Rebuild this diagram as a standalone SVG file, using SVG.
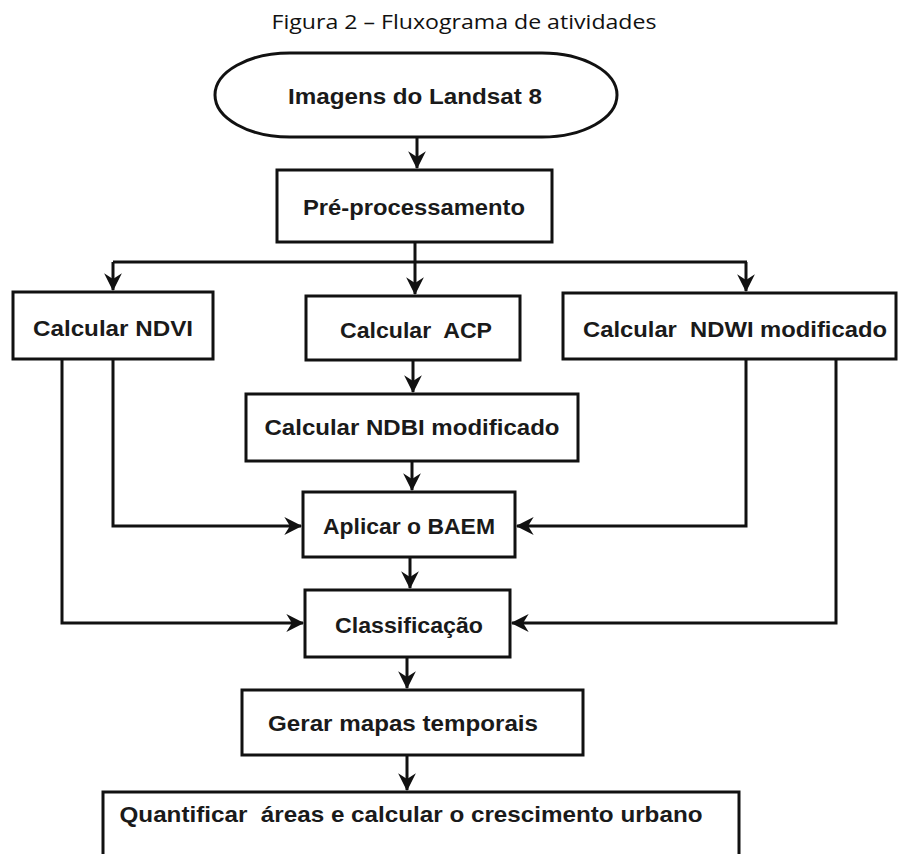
<svg xmlns="http://www.w3.org/2000/svg" width="900" height="854" viewBox="0 0 900 854">
<style>
.box{fill:#fff;stroke:#111;stroke-width:3}
.lbl{font-family:"Liberation Sans",Arial,sans-serif;font-weight:bold;font-size:22px;fill:#1a1a1a;text-anchor:middle}
.title{font-family:"Open Sans","Liberation Sans",sans-serif;font-size:20px;fill:#111;text-anchor:middle}
.con{fill:none;stroke:#111;stroke-width:3}
</style>
<defs>
<marker id="ah" markerUnits="userSpaceOnUse" markerWidth="20" markerHeight="20" viewBox="-16 -9 18 18" refX="0" refY="0" orient="auto">
<path d="M1,0 L-15,-8 L-10,0 L-15,8 Z" fill="#111"/>
</marker>
</defs>
<rect width="900" height="854" fill="#fff"/>
<text class="title" x="464" y="29" textLength="385" lengthAdjust="spacingAndGlyphs">Figura 2 – Fluxograma de atividades</text>

<g id="n-landsat">
<rect class="box" x="215" y="53" width="402" height="84" rx="75" ry="42"/>
<text class="lbl" x="415" y="104" textLength="254" lengthAdjust="spacingAndGlyphs">Imagens do Landsat 8</text>
</g>
<g id="n-pre">
<rect class="box" x="277" y="170" width="275" height="72"/>
<text class="lbl" x="414" y="215" textLength="222" lengthAdjust="spacingAndGlyphs">Pré-processamento</text>
</g>
<g id="n-ndvi">
<rect class="box" x="13" y="292" width="200" height="67"/>
<text class="lbl" x="113" y="336" textLength="160" lengthAdjust="spacingAndGlyphs">Calcular NDVI</text>
</g>
<g id="n-acp">
<rect class="box" x="306" y="296" width="214" height="64"/>
<text class="lbl" x="416" y="338" textLength="152" lengthAdjust="spacingAndGlyphs" xml:space="preserve">Calcular  ACP</text>
</g>
<g id="n-ndwi">
<rect class="box" x="563" y="293" width="333" height="66"/>
<text class="lbl" x="735" y="337" textLength="304" lengthAdjust="spacingAndGlyphs" xml:space="preserve">Calcular  NDWI modificado</text>
</g>
<g id="n-ndbi">
<rect class="box" x="246" y="394" width="332" height="67"/>
<text class="lbl" x="412" y="435" textLength="295" lengthAdjust="spacingAndGlyphs">Calcular NDBI modificado</text>
</g>
<g id="n-baem">
<rect class="box" x="303" y="492" width="212" height="65"/>
<text class="lbl" x="409" y="534" textLength="172" lengthAdjust="spacingAndGlyphs">Aplicar o BAEM</text>
</g>
<g id="n-class">
<rect class="box" x="305" y="590" width="205" height="67"/>
<text class="lbl" x="409" y="633" textLength="148" lengthAdjust="spacingAndGlyphs">Classificação</text>
</g>
<g id="n-gerar">
<rect class="box" x="242" y="690" width="341" height="65"/>
<text class="lbl" x="403" y="731" textLength="270" lengthAdjust="spacingAndGlyphs">Gerar mapas temporais</text>
</g>
<g id="n-quant">
<rect class="box" x="103" y="792" width="636" height="90"/>
<text class="lbl" x="411" y="822" textLength="583" lengthAdjust="spacingAndGlyphs" xml:space="preserve">Quantificar  áreas e calcular o crescimento urbano</text>
</g>

<g id="connectors">
<path class="con" d="M417,137 V168" marker-end="url(#ah)"/>
<path class="con" d="M415,242 V262"/>
<path class="con" d="M113,262 H747"/>
<path class="con" d="M113,262 V290" marker-end="url(#ah)"/>
<path class="con" d="M415,262 V294" marker-end="url(#ah)"/>
<path class="con" d="M746,262 V291" marker-end="url(#ah)"/>
<path class="con" d="M413,360 V392" marker-end="url(#ah)"/>
<path class="con" d="M412,461 V490" marker-end="url(#ah)"/>
<path class="con" d="M410,557 V588" marker-end="url(#ah)"/>
<path class="con" d="M113,359 V526 H301" marker-end="url(#ah)"/>
<path class="con" d="M62,359 V623 H303" marker-end="url(#ah)"/>
<path class="con" d="M746,359 V526 H517" marker-end="url(#ah)"/>
<path class="con" d="M836,359 V623 H512" marker-end="url(#ah)"/>
<path class="con" d="M407,657 V688" marker-end="url(#ah)"/>
<path class="con" d="M407,755 V790" marker-end="url(#ah)"/>
</g>
</svg>
